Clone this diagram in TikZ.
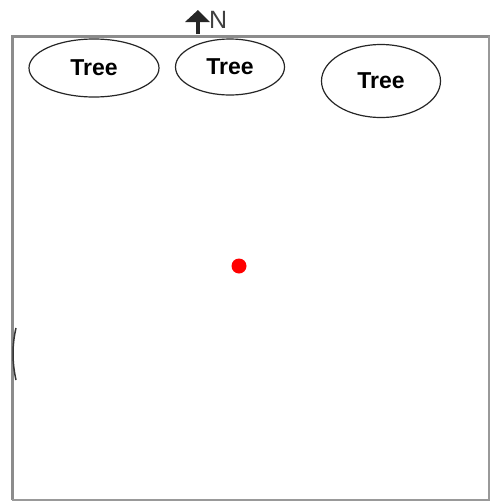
\documentclass[tikz,border=0pt]{standalone}
\usepackage{fontspec}
\setmainfont{Liberation Sans}
\usetikzlibrary{shapes.geometric}
\begin{document}
\begin{tikzpicture}[x=1pt,y=-1pt,
  tree/.style={ellipse,draw=black!85,line width=1.2pt,inner sep=0pt,font=\fontsize{23}{23}\selectfont\bfseries},
  frame/.style={draw=black!45,line width=3pt}]
\useasboundingbox (0,0) rectangle (490,504);
\fill[white] (0,0) rectangle (490,504);
\draw[frame] (12,500) -- (12,36) -- (490,36);
\draw[draw=black!40,line width=2pt] (12,500) -- (489,500) -- (489,36);
\node[tree,minimum width=130,minimum height=58] (t1) at (94,68) {Tree};
\node[tree,minimum width=109,minimum height=56] (t2) at (230,67) {Tree};
\node[tree,minimum width=119,minimum height=73] (t3) at (381,81) {Tree};
% north arrow
\coordinate (nbase) at (198,34);
\coordinate (ntip) at (198,10);
\draw[line width=3.5pt,black!85] (nbase) -- (198,20);
\fill[black!85] (ntip) -- (210,22) -- (185,22) -- cycle;
\node[anchor=west,inner sep=0pt,font=\fontsize{25}{25}\selectfont,text=black!75] (n) at (209,20) {N};
% red dot
\fill[red] (239,266) circle (7.5);
% small arc on left wall
\draw[black!80,line width=1.5pt] (16,328) .. controls (12,345) and (12,362) .. (16,380);
\end{tikzpicture}
\end{document}
